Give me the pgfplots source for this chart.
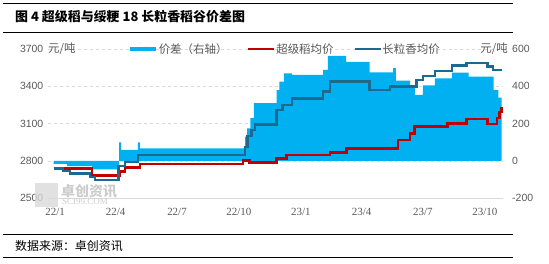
\documentclass[border=0pt]{standalone}
\usepackage{pgfplots}
\pgfplotsset{compat=1.18}
\usepackage{fontspec}
\setmainfont{Liberation Sans}
\newfontfamily\cjk{Noto Sans CJK SC}
\newfontfamily\serifnum{Liberation Serif}
\definecolor{areablue}{HTML}{00B0F0}
\definecolor{srred}{HTML}{C00000}
\definecolor{lgblue}{HTML}{1F6991}
\definecolor{txtgray}{HTML}{595959}
\definecolor{gridgray}{HTML}{D9D9D9}
\begin{document}
\begin{tikzpicture}[x=1bp,y=1bp]
\path[use as bounding box] (0,0) rectangle (549,263);
% title and rules
\draw[line width=1bp] (3,259) -- (513,259);
\draw[line width=1bp] (3,231) -- (513,231);
\node[anchor=west,inner sep=0pt] at (15,246) {\cjk\bfseries\fontsize{13}{15}\selectfont 图 4 超级稻与绥粳 18 长粒香稻谷价差图};
\draw[line width=1bp] (3,29) -- (513,29);
\draw[line width=1bp] (3,6) -- (513,6);
\node[anchor=west,inner sep=0pt] at (15,16.5) {\cjk\fontsize{12}{14}\selectfont 数据来源：卓创资讯};
% right axis: spread
\begin{axis}[
  at={(48bp,64.7bp)}, anchor=south west, scale only axis,
  width=455bp, height=149.3bp,
  xmin=-10.5, xmax=665, ymin=-200, ymax=600,
  axis x line*=bottom, axis y line*=right,
  x axis line style={draw=gridgray, line width=0.8bp, -},
  y axis line style={draw=none},
  major tick length=0pt,
  xtick={0,90,181,273,365,455,546,638},
  xticklabels={22/1,22/4,22/7,22/10,23/1,23/4,23/7,23/10},
  xticklabel style={anchor=base, inner sep=0pt, yshift=-17bp, font=\serifnum\fontsize{11}{13}\selectfont, text=txtgray},
  ytick={-200,0,200,400,600},
  yticklabels={-200,0,200,400,600},
  yticklabel style={anchor=west, inner sep=0pt, xshift=9bp, font=\fontsize{10.5}{12}\selectfont, text=txtgray},
  ymajorgrids, grid style={dashed, gridgray, line width=0.7bp},
  clip=false,
]
\addplot[const plot, fill=areablue, draw=none] coordinates {
(-2,-15) (18,-28) (55,-45) (95,100) (98,60) (123,100) (126,68)
(282,130) (285,175) (290,229) (295,310) (329,380) (333,425) (340,470)
(352,461) (398,488) (405,563) (432,531) (467,475) (502,497) (506,430)
(527,390) (534,354) (546,405) (564,443) (589,473) (614,452) (651,380)
(658,340) (663,295)
} \closedcycle;
\end{axis}
% left axis: prices
\begin{axis}[
  at={(48bp,64.7bp)}, anchor=south west, scale only axis,
  width=455bp, height=149.3bp,
  xmin=-10.5, xmax=665, ymin=2500, ymax=3700,
  axis x line=none, axis y line*=left,
  y axis line style={draw=none},
  major tick length=0pt,
  ytick={2500,2800,3100,3400,3700},
  yticklabels={2500,2800,3100,3400,3700},
  yticklabel style={anchor=east, inner sep=0pt, xshift=-4.5bp, font=\fontsize{10.5}{12}\selectfont, text=txtgray},
  clip=false,
  legend columns=3,
  legend image code/.code={\draw[#1] (0bp,0bp) -- (26bp,0bp);},
  legend style={at={(0.1758,1)}, anchor=west, draw=none, fill=none, inner sep=0pt,
    font=\cjk\fontsize{11.5}{13}\selectfont, text=txtgray,
    /tikz/every even column/.append style={column sep=19bp},
    nodes={inner sep=0.6bp}},
]
\addlegendimage{areablue, line width=4bp}
\addlegendentry{价差（右轴）}
\addplot[const plot, srred, line width=2.6bp] coordinates {
(-2,2741) (55,2685) (96,2714) (104,2746) (126,2776) (279,2804) (289,2790)
(329,2822) (344,2848) (408,2870) (433,2902) (509,2969) (527,3023) (534,3076)
(583,3103) (611,3138) (642,3097) (656,3146) (660,3194) (663,3234)
};
\addlegendentry{超级稻均价}
\addplot[const plot, lgblue, line width=2.6bp] coordinates {
(-2,2740) (12,2720) (22,2700) (52,2671) (59,2647) (94,2760) (104,2792)
(123,2848) (282,2913) (286,3001) (292,3049) (297,3093) (329,3210) (338,3250)
(352,3302) (398,3357) (408,3438) (467,3371) (497,3397) (537,3451) (546,3483)
(564,3524) (589,3568) (611,3586) (642,3558) (650,3532) (663,3532)
};
\addlegendentry{长粒香均价}
\end{axis}
% unit labels
\node[anchor=west,inner sep=0pt,text=txtgray] at (48,214) {\cjk\fontsize{11.5}{13}\selectfont 元/吨};
\node[anchor=east,inner sep=0pt,text=txtgray] at (508,214) {\cjk\fontsize{11.5}{13}\selectfont 元/吨};
% watermark
\fill[gray!30, opacity=0.8] (35,56) rectangle (58,80);
\node[anchor=west,inner sep=0pt,text=gray!40] at (61,72) {\cjk\bfseries\fontsize{14}{16}\selectfont 卓创资讯};
\node[anchor=west,inner sep=0pt,text=gray!40] at (62,61) {\serifnum\fontsize{9}{10}\selectfont SCI99.COM};
\end{tikzpicture}
\end{document}
